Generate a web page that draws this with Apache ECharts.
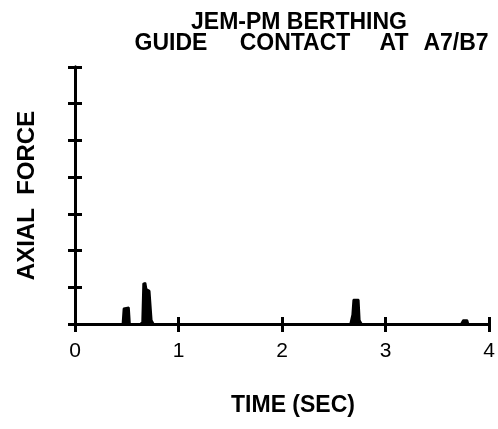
<!DOCTYPE html>
<html>
<head>
<meta charset="utf-8">
<script src="https://cdn.jsdelivr.net/npm/echarts@6/dist/echarts.min.js"></script>
<style>
  html, body { margin: 0; padding: 0; background: #fff; }
  #chart { width: 498px; height: 429px; }
</style>
</head>
<body>
<div id="chart"></div>
<script>
// Guide contact force trace, time in seconds
var timeSec = [0, 0.46, 0.47, 0.52, 0.53, 0.63, 0.65, 0.66, 0.68, 0.69, 0.72, 0.74, 0.76,
  2.66, 2.68, 2.69, 2.74, 2.75, 2.77, 3.73, 3.75, 3.79, 3.80, 4];
var axialForce = [0, 0, 0.42, 0.45, 0, 0, 0.05, 1.1, 1.12, 0.95, 0.9, 0.1, 0,
  0, 0.25, 0.66, 0.66, 0.1, 0, 0, 0.1, 0.1, 0, 0];
var xTicks = [0, 1, 2, 3, 4];
var titleTop = 'JEM-PM BERTHING';
var titleWords = ['GUIDE', 'CONTACT', 'AT', 'A7/B7'];
var titleWordCenters = [171, 295, 394, 456];

var points = timeSec.map(function (t, i) { return [t, axialForce[i]]; });
var font = 'Liberation Sans, Arial, sans-serif';
var titleStyle = { fontFamily: font, fontWeight: 'bold', fontSize: 23, color: '#000' };

var titles = [{ text: titleTop, left: 294, top: 6, textAlign: 'center', textStyle: titleStyle }];
titleWords.forEach(function (w, i) {
  titles.push({ text: w, left: titleWordCenters[i], top: 32, textAlign: 'center',
    textStyle: titleStyle, padding: 0 });
});

var axisLineStyle = { color: '#000', width: 3 };
var tickStyle = { color: '#000', width: 3 };
var blankLabel = { show: true, formatter: function () { return ''; } };

var chart = echarts.init(document.getElementById('chart'), null, { renderer: 'canvas' });
chart.setOption({
  animation: false,
  backgroundColor: '#fff',
  title: titles,
  grid: { left: 75, right: 9, top: 67, bottom: 105 },
  xAxis: [
    {
      type: 'value', min: 0, max: 4, interval: 1,
      name: 'TIME (SEC)', nameLocation: 'middle', nameGap: 70,
      nameTextStyle: { fontFamily: font, fontWeight: 'bold', fontSize: 23, color: '#000', padding: [0, 0, 0, 22] },
      axisLine: { lineStyle: axisLineStyle },
      axisTick: { length: 8, lineStyle: tickStyle },
      axisLabel: { fontFamily: font, fontSize: 21, color: '#000', margin: 17,
        formatter: function (v) { return xTicks.indexOf(v) >= 0 ? String(v) : ''; } },
      splitLine: { show: false }
    },
    {
      // upward half of the crossing x ticks
      type: 'value', min: 0, max: 4, interval: 1, position: 'bottom',
      axisLine: { show: true, onZero: false, lineStyle: axisLineStyle },
      axisTick: { show: true, inside: true, length: 7, lineStyle: tickStyle },
      axisLabel: blankLabel, splitLine: { show: false }
    }
  ],
  yAxis: [
    {
      type: 'value', min: 0, max: 7, interval: 1,
      name: 'AXIAL  FORCE', nameLocation: 'middle', nameGap: 36, nameRotate: 90,
      nameTextStyle: { fontFamily: font, fontWeight: 'bold', fontSize: 24, color: '#000' },
      axisLine: { show: true, lineStyle: axisLineStyle },
      axisTick: { show: true, length: 7, lineStyle: tickStyle },
      axisLabel: blankLabel, splitLine: { show: false }
    },
    {
      // rightward half of the crossing y ticks
      type: 'value', min: 0, max: 7, interval: 1, position: 'left',
      axisLine: { show: true, onZero: false, lineStyle: axisLineStyle },
      axisTick: { show: true, inside: true, length: 7, lineStyle: tickStyle },
      axisLabel: blankLabel, splitLine: { show: false }
    }
  ],
  series: [
    {
      type: 'line',
      data: points,
      showSymbol: false,
      lineStyle: { color: '#000', width: 2 },
      areaStyle: { color: '#000', opacity: 1 },
      z: 1
    },
    {
      // attaches the secondary tick axes to the grid; draws nothing
      type: 'line', xAxisIndex: 1, yAxisIndex: 1, data: [[0, 0]],
      showSymbol: false, silent: true, lineStyle: { width: 0 }
    }
  ]
});
</script>
</body>
</html>
